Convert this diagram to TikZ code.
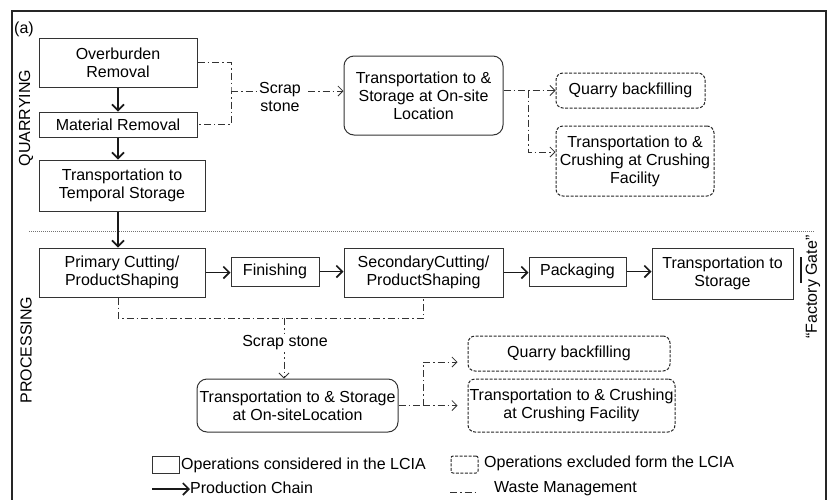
\documentclass[tikz,border=0pt]{standalone}
\usepackage{fontspec}
\setmainfont{Liberation Sans}
\usetikzlibrary{arrows.meta,calc}
\begin{document}
\begin{tikzpicture}[x=1pt,y=-1pt,
  every node/.style={font=\fontsize{16}{18}\selectfont, align=center, inner sep=0pt, text=black},
  opbox/.style={draw=black!80, line width=1pt},
  osbox/.style={opbox, rounded corners=10pt},
  exbox/.style={draw=black!85, line width=1pt, dash pattern=on 3pt off 1.5pt, rounded corners=7pt},
  prod/.style={draw=black!90, line width=1.6pt, -{Straight Barb[length=6pt,width=12pt,line width=1.6pt]}},
  waste/.style={draw=black!80, line width=0.8pt, dash pattern=on 7pt off 3pt on 1.5pt off 3pt},
  wastearrow/.style={waste, -{Straight Barb[length=5pt,width=10pt,line width=0.8pt]}}
]
\useasboundingbox (0,0) rectangle (828,499);
% frame
\draw[line width=2pt, black!85] (12,500) -- (12,11) -- (826,11) -- (826,500);
\node (alab) at (24,29) {(a)};
\node[rotate=90] (qlab) at (26,118) {QUARRYING};
\node[rotate=90] (plab) at (26,350) {PROCESSING};
% separator
\draw[black!55, line width=0.6pt, dash pattern=on 1pt off 1pt] (29,231) -- (815,231);

% quarrying
\node[opbox, minimum width=158pt, minimum height=49pt] (ob) at (118,62.5) {Overburden\\Removal};
\node[opbox, minimum width=158pt, minimum height=25pt] (mr) at (118,124.5) {Material Removal};
\node[opbox, minimum width=166pt, minimum height=51pt] (ts) at (122,185.5) {Transportation to\\Temporal Storage};
\node (scrap1) at (280,97) {Scrap\\stone};
\node[osbox, minimum width=159pt, minimum height=79pt] (os1) at (423.5,95.5) {Transportation to \&\\Storage at On-site\\Location};
\node[exbox, minimum width=149pt, minimum height=35pt] (qb1) at (630.5,90.5) {Quarry backfilling};
\node[exbox, minimum width=158pt, minimum height=70pt] (cr1) at (635,161) {Transportation to \&\\Crushing at Crushing\\Facility};

\draw[prod] (ob.south) -- (mr.north);
\draw[prod] (mr.south) -- (mr.south |- ts.north);

\coordinate (wq) at (231,91);
\draw[waste] (ob.east) -| (wq) |- (mr.east);
\draw[waste] (wq) -- (wq -| scrap1.west);
\draw[wastearrow, shorten <=7pt] (scrap1.east |- wq) -- (os1.west |- wq);
\coordinate (wj1) at (528,90.5);
\draw[wastearrow] (os1.east |- qb1.west) -- (qb1.west);
\draw[wastearrow] (wj1) |- ([yshift=9pt]cr1.west);

% processing
\node[opbox, minimum width=166pt, minimum height=49pt] (pc) at (122,272.5) {Primary Cutting/\\ProductShaping};
\node[opbox, minimum width=88pt, minimum height=29pt] (fin) at (275,271.5) {Finishing};
\node[opbox, minimum width=159pt, minimum height=49pt] (sc) at (423.5,272.5) {SecondaryCutting/\\ProductShaping};
\node[opbox, minimum width=97pt, minimum height=29pt] (pk) at (577.5,271.5) {Packaging};
\node[opbox, minimum width=141pt, minimum height=51pt] (tsr) at (722.5,273.5) {Transportation to\\Storage};
\node[rotate=90] (gate) at (813,287) {“Factory Gate”};
\coordinate (gtop) at (801,257);
\coordinate (gbot) at (801,283);
\draw[line width=2.5pt, black!90] (gtop) -- (gbot);

\draw[prod] (mr.south |- ts.south) -- (mr.south |- pc.north);
\draw[prod] (pc.east) -- (pc.east -| fin.west);
\draw[prod] (fin.east) -- (fin.east -| sc.west);
\draw[prod] (sc.east) -- (sc.east -| pk.west);
\draw[prod] (pk.east) -- (pk.east -| tsr.west);

\node[osbox, minimum width=201pt, minimum height=53pt] (os2) at (297.5,405.5) {Transportation to \& Storage\\at On-siteLocation};
\node[exbox, minimum width=202pt, minimum height=35pt] (qb2) at (569,353.5) {Quarry backfilling};
\node[exbox, minimum width=207pt, minimum height=53pt] (cr2) at (571.5,405.5) {Transportation to \& Crushing\\at Crushing Facility};

\coordinate (wp) at (284,318);
\draw[waste] (mr.south |- pc.south) |- (sc.south |- wp) -- (sc.south);
\draw[wastearrow] (wp) -- (wp |- os2.north);
\node[fill=white, inner sep=1.5pt] (scrap2) at (285,343) {Scrap stone};
\coordinate (wj2) at (423,405.5);
\draw[waste] (os2.east) -- (wj2);
\draw[wastearrow, shorten >=10pt] (wj2) |- ([yshift=-8.5pt]qb2.west);
\draw[wastearrow, shorten >=10pt] (wj2) -- (cr2.west |- wj2);

% legend
\node[opbox, minimum width=27pt, minimum height=17pt] (lg1) at (165.5,464.5) {};
\node[anchor=west] (lg1t) at (181,465) {Operations considered in the LCIA};
\node[exbox, rounded corners=2pt, minimum width=27pt, minimum height=17pt] (lg2) at (464.5,464.5) {};
\node[anchor=west] (lg2t) at (484,463) {Operations excluded form the LCIA};
\coordinate (lg3a) at (152,489);
\node[anchor=west] (lg3t) at (190,488) {Production Chain};
\draw[prod, line width=1.3pt] (lg3a) -- (lg3t.west |- lg3a);
\coordinate (lg4a) at (450,492);
\coordinate (lg4b) at (476,492);
\node[anchor=west] (lg4t) at (494,489) {Waste Management};
\draw[waste] (lg4a) -- (lg4b);
\end{tikzpicture}
\end{document}
